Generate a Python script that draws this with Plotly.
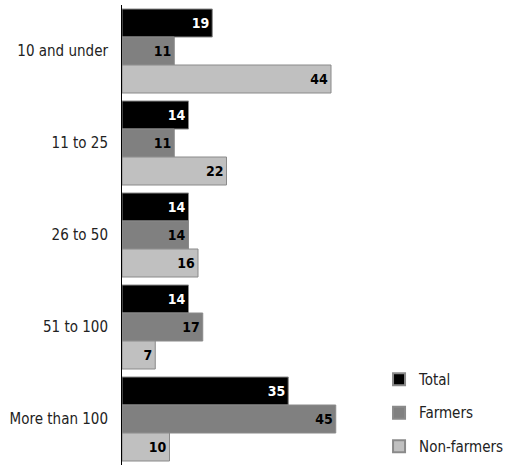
import plotly.graph_objects as go

categories = ["10 and under", "11 to 25", "26 to 50", "51 to 100", "More than 100"]
total = [19, 14, 14, 14, 35]
farmers = [11, 11, 14, 17, 45]
non_farmers = [44, 22, 16, 7, 10]

series = [
    ("Total", total, "#000000", "#ffffff"),
    ("Farmers", farmers, "#808080", "#000000"),
    ("Non-farmers", non_farmers, "#c0c0c0", "#000000"),
]

FONT = "DejaVu Sans Condensed, Liberation Sans, Arial, sans-serif"

W, H = 505, 466
ML, MR, MT, MB = 122, 5, 5, 1
pxu = 4.75
xmax = (W - ML - MR) / pxu

fig = go.Figure()
for name, vals, col, tcol in series:
    fig.add_trace(go.Bar(
        name=name, y=categories, x=vals, orientation="h",
        marker=dict(color=col, line=dict(color="#8a8a8a", width=1)),
        text=[str(v) for v in vals], textposition="inside",
        insidetextanchor="end",
        textfont=dict(family=FONT, size=14, color=tcol, weight="bold"),
        legendgroup=name,
    ))

fig.update_layout(
    width=W, height=H,
    margin=dict(l=ML, r=MR, t=MT, b=MB, autoexpand=False),
    paper_bgcolor="white", plot_bgcolor="white",
    barmode="group", bargap=0.087, bargroupgap=0,
    uniformtext=dict(minsize=8, mode="show"),
    font=dict(family=FONT, size=15, color="#000000"),
    xaxis=dict(range=[0, xmax], visible=False, fixedrange=True, automargin=False),
    yaxis=dict(autorange="reversed", showline=True, linecolor="#000000", linewidth=1,
               ticks="", ticklabelstandoff=10, showgrid=False, automargin=False,
               tickfont=dict(family=FONT, size=15, color="#222222")),
    legend=dict(x=0.68, xanchor="left", y=0.222, yanchor="top",
                font=dict(family=FONT, size=15, color="#222222"),
                tracegroupgap=11, itemsizing="constant", bgcolor="rgba(0,0,0,0)"),
    showlegend=True,
)

fig.write_html("out.html", config={"displayModeBar": False},
               post_script="document.body.style.margin='0';")
